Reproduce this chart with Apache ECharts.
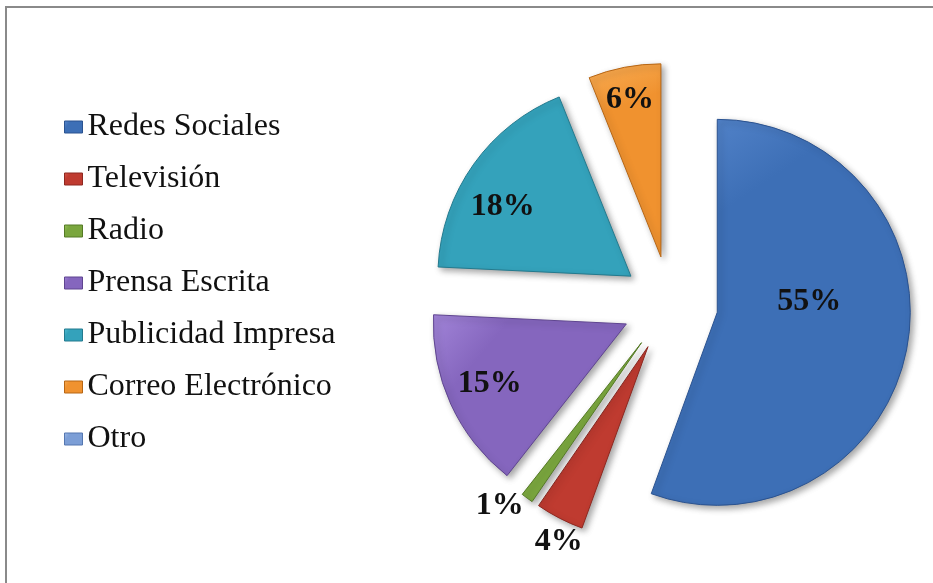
<!DOCTYPE html>
<html>
<head>
<meta charset="utf-8">
<script src="https://cdn.jsdelivr.net/npm/echarts@6/dist/echarts.min.js"></script>
<style>
  html, body { margin: 0; padding: 0; background: #ffffff; }
  #chart { width: 933px; height: 583px; }
</style>
</head>
<body>
<div id="chart"></div>
<script>
// Media channels and their share (%)
const categories = ['Redes Sociales', 'Televisión', 'Radio', 'Prensa Escrita', 'Publicidad Impresa', 'Correo Electrónico', 'Otro'];
const shares = [55, 4, 1, 15, 18, 6, 0];

// Slice palette: base colour, darker edge, lighter highlight
const baseColors = ['#3d6fb6', '#bf3b30', '#7aa63e', '#8566be', '#34a2bb', '#f0922f', '#7c9ed6'];
const edgeColors = ['#2b5390', '#8e2820', '#557a26', '#5f4590', '#237a8e', '#b76614', '#5577b0'];
const lightColors = ['#5a8ad0', '#d9574b', '#99c45a', '#a184d8', '#55c0d6', '#f8ad55', '#9fbce8'];

// Which labels sit outside the slice, and per-label nudges (px)
const outsideLabel = [false, true, true, false, false, false, false];
const labelNudge = [[-6, -28], [30, 20], [4, 4], [-46, 18], [-47, -12], [-12, -59], [0, 0]];

function sliceFill(i) {
  return {
    type: 'linear', x: 0, y: 0, x2: 1, y2: 1,
    colorStops: [
      { offset: 0, color: lightColors[i] },
      { offset: 0.25, color: baseColors[i] },
      { offset: 1, color: baseColors[i] }
    ]
  };
}

const pieData = categories.map((name, i) => {
  const visible = shares[i] > 0;
  return {
    name: name,
    value: shares[i],
    selected: true,
    itemStyle: {
      color: sliceFill(i),
      borderColor: edgeColors[i],
      borderWidth: visible ? 1 : 0,
      shadowBlur: visible ? 6 : 0,
      shadowOffsetX: visible ? 3 : 0,
      shadowOffsetY: visible ? 3 : 0,
      shadowColor: visible ? 'rgba(0,0,0,0.35)' : 'rgba(0,0,0,0)'
    },
    label: { show: visible, position: outsideLabel[i] ? 'outside' : 'inside' },
    labelLine: { show: false, length: 4, length2: 0 }
  };
});

// Legend entries carry their own edge so the empty "Otro" key still has one
const legendData = categories.map((name, i) => ({
  name: name,
  itemStyle: { borderColor: edgeColors[i], borderWidth: 1 }
}));

const chart = echarts.init(document.getElementById('chart'), null, { renderer: 'canvas' });

chart.setOption({
  animation: false,
  backgroundColor: '#ffffff',
  graphic: [{
    type: 'rect',
    shape: { x: 6, y: 7, width: 940, height: 590 },
    style: { fill: 'none', stroke: '#8a8a8a', lineWidth: 2 },
    silent: true
  }],
  legend: {
    orient: 'vertical',
    left: 64,
    top: 111,
    padding: 0,
    itemWidth: 18,
    itemHeight: 12,
    itemGap: 20,
    icon: 'rect',
    selectedMode: false,
    data: legendData,
    textStyle: {
      fontFamily: 'Liberation Serif, Times New Roman, serif',
      fontSize: 32,
      lineHeight: 32,
      color: '#111111'
    }
  },
  series: [{
    type: 'pie',
    center: [670, 304],
    radius: [0, 193],
    startAngle: 90,
    clockwise: true,
    selectedMode: 'multiple',
    selectedOffset: 48,
    avoidLabelOverlap: false,
    label: {
      formatter: p => p.value + '%',
      fontFamily: 'Liberation Serif, Times New Roman, serif',
      fontWeight: 'bold',
      fontSize: 32,
      color: '#111111'
    },
    emphasis: { disabled: true },
    labelLayout: p => {
      const n = labelNudge[p.dataIndex];
      return { dx: n[0], dy: n[1] };
    },
    data: pieData
  }]
});
</script>
</body>
</html>
